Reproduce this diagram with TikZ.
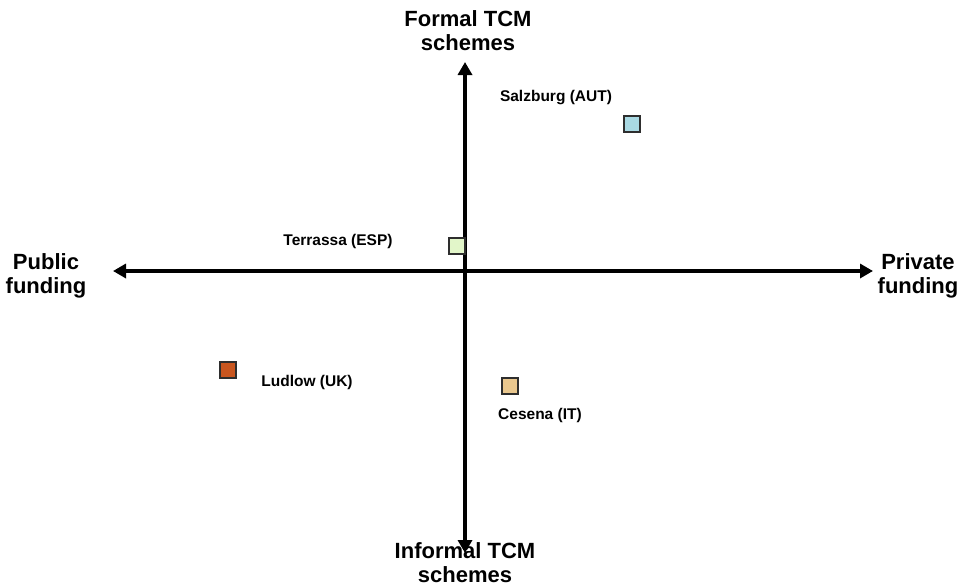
\documentclass[tikz,border=0pt]{standalone}
\usepackage{fontspec}
\newfontfamily\lab{Liberation Sans}
\usetikzlibrary{arrows.meta}
\definecolor{sqborder}{HTML}{2E2E2E}
\definecolor{salz}{HTML}{A9D9E3}
\definecolor{terr}{HTML}{E2F6C9}
\definecolor{lud}{HTML}{C9561F}
\definecolor{ces}{HTML}{E9C78E}
\tikzset{
  axislab/.style={font=\lab\bfseries\fontsize{22}{23.5}\selectfont, align=center, inner sep=0pt, anchor=base},
  citylab/.style={font=\lab\bfseries\fontsize{15.5}{17}\selectfont, inner sep=0pt},
  citysq/.style={draw=sqborder, line width=1.5pt, minimum size=16pt, inner sep=0pt},
  axisarrow/.style={line width=3.3pt, -{Triangle[width=14pt,length=13pt]}}
}
\begin{document}
\begin{tikzpicture}[x=1pt,y=-1pt]
\useasboundingbox (0,0) rectangle (959,587);
\coordinate (c) at (465,271);
\coordinate (top) at (465,62);
\coordinate (bot) at (465,553);
\coordinate (lft) at (113,271);
\coordinate (rgt) at (873,271);
\draw[axisarrow] (c) -- (top);
\draw[axisarrow] (c) -- (bot);
\draw[axisarrow] (c) -- (lft);
\draw[axisarrow] (c) -- (rgt);
\node[axislab] (formal) at (468,50) {Formal TCM\\schemes};
\node[axislab] (informal) at (465,582) {Informal TCM\\schemes};
\node[axislab] (public) at (46,293) {Public\\funding};
\node[axislab] (private) at (918,293) {Private\\funding};
\node[citysq, fill=salz] (sqsalz) at (632,124) {};
\node[citysq, fill=terr] (sqterr) at (457,246) {};
\node[citysq, fill=lud] (sqlud) at (228,370) {};
\node[citysq, fill=ces] (sqces) at (510,386) {};
\node[citylab] (lsalz) at (556,98) {Salzburg (AUT)};
\node[citylab] (lterr) at (338,241) {Terrassa (ESP)};
\node[citylab] (llud) at (307,382) {Ludlow (UK)};
\node[citylab] (lces) at (540,415) {Cesena (IT)};
\end{tikzpicture}
\end{document}
